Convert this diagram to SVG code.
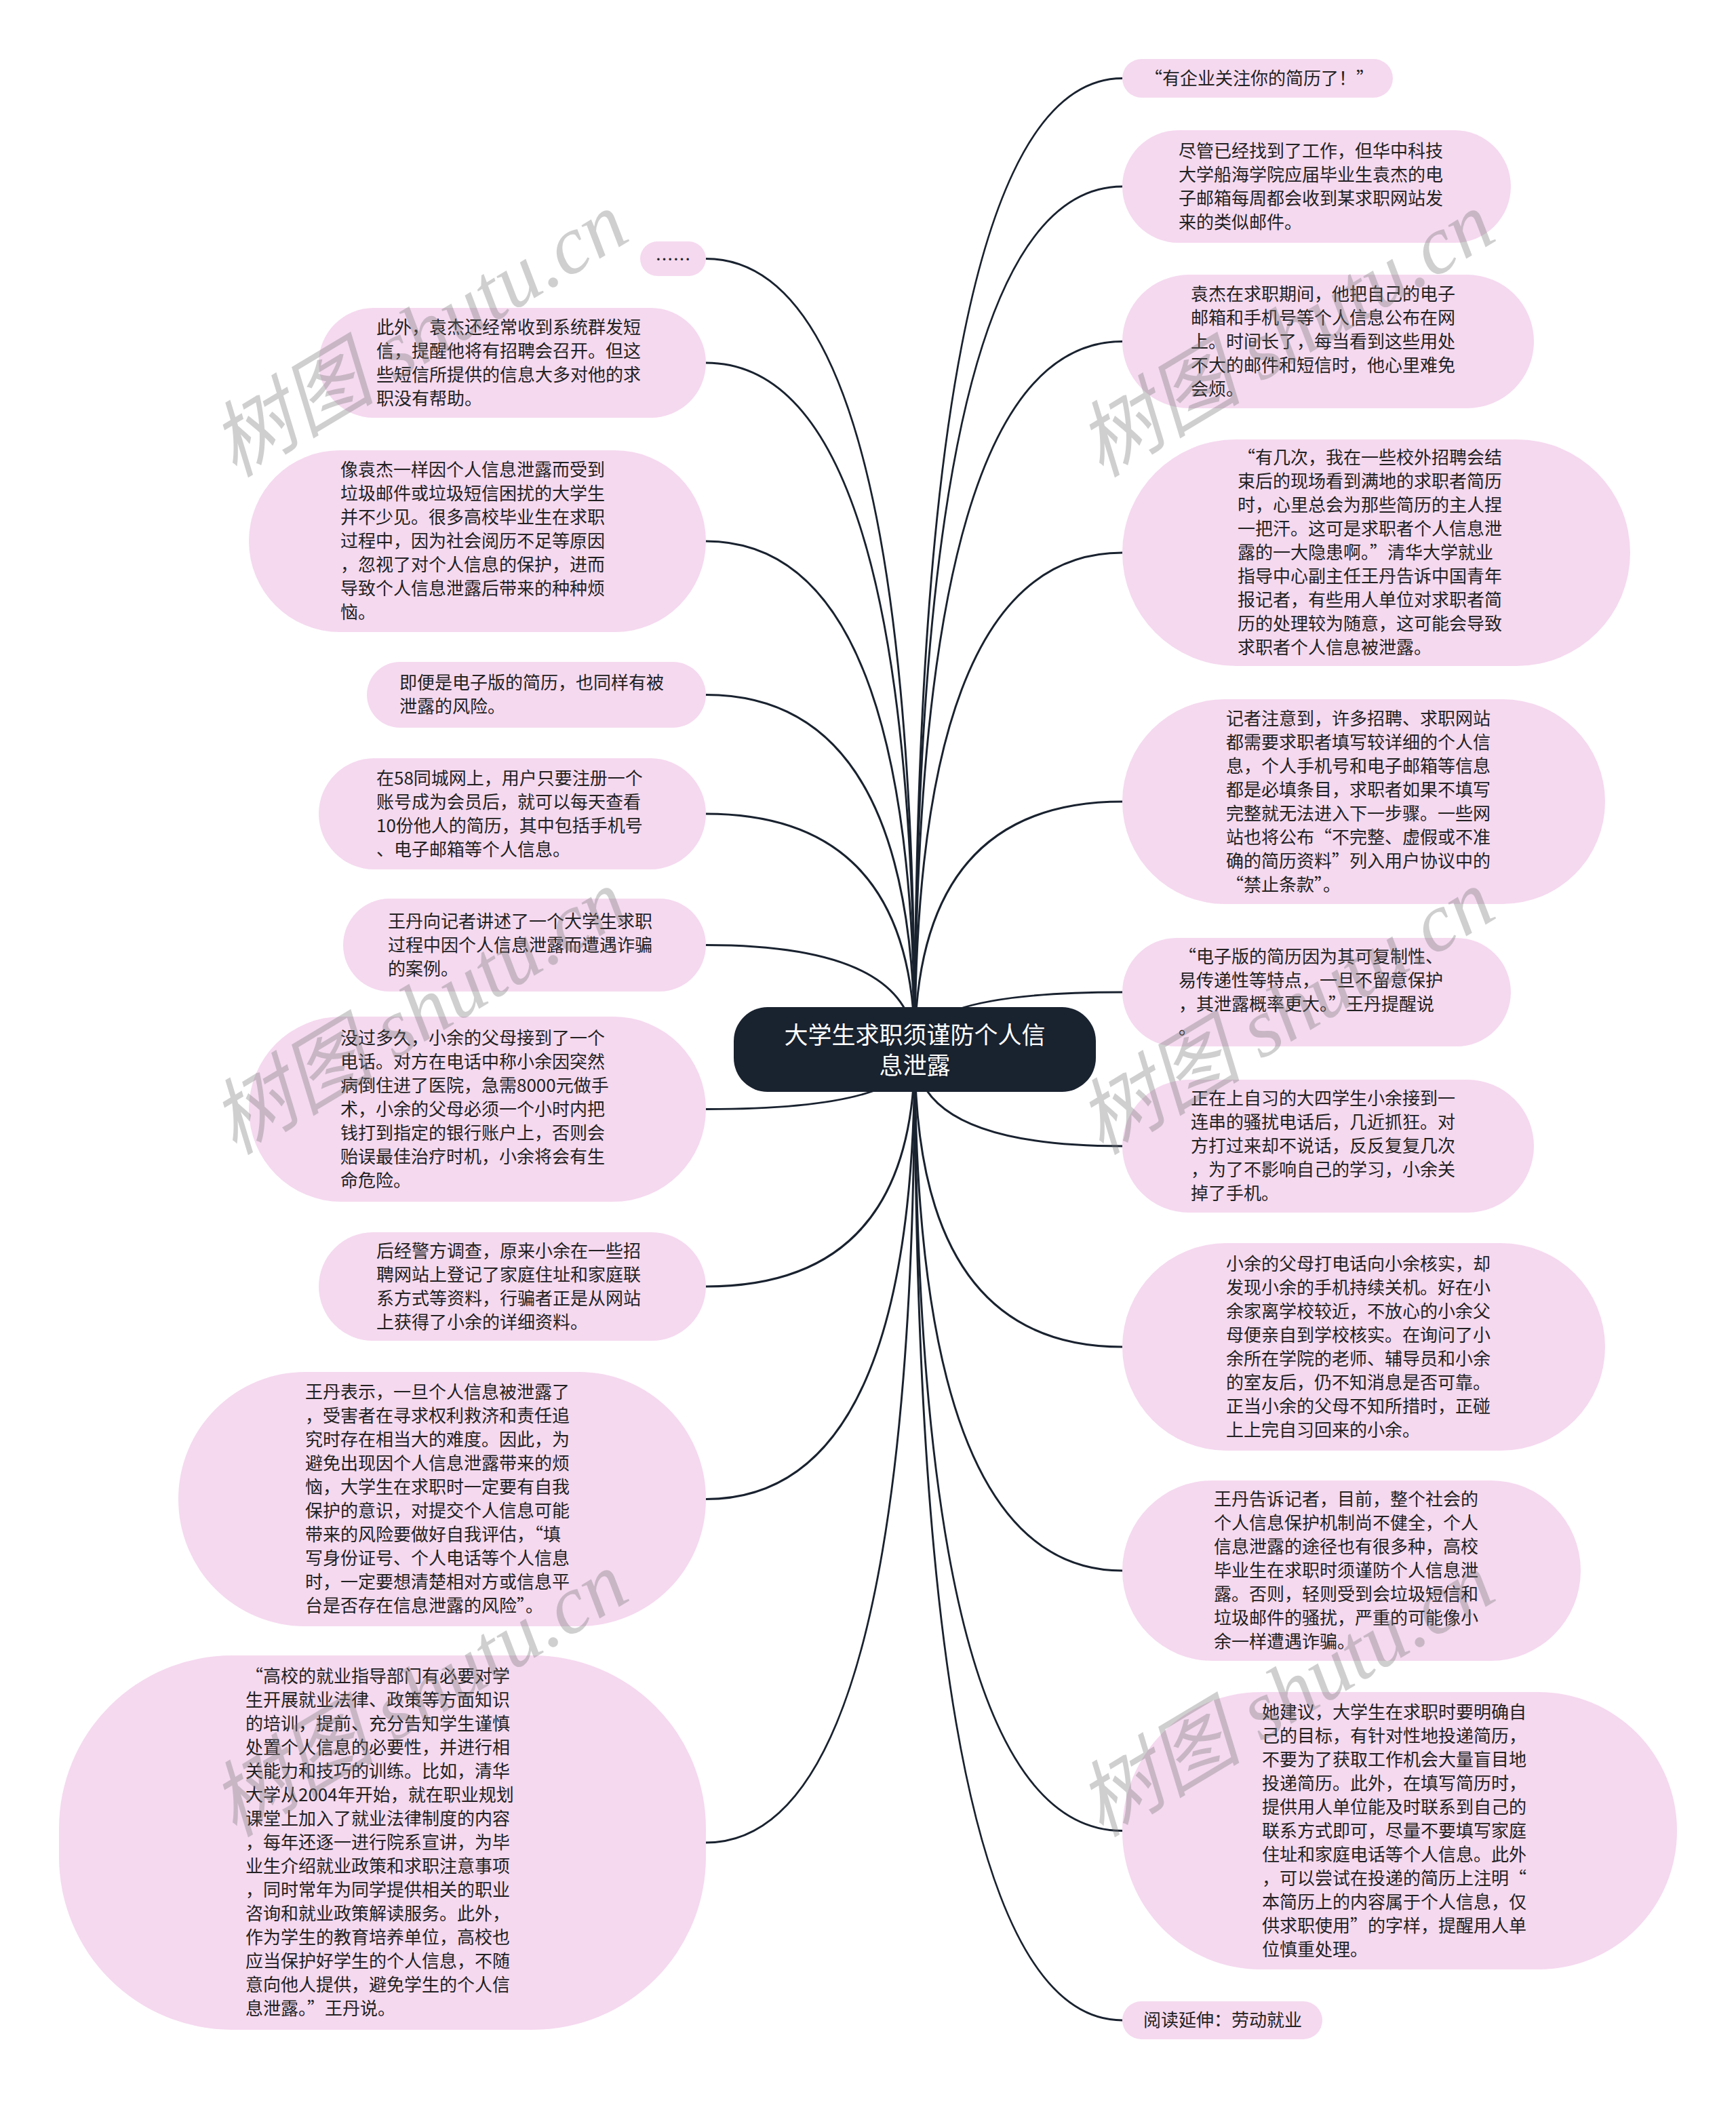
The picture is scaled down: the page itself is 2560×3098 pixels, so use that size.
<svg xmlns="http://www.w3.org/2000/svg" width="2560" height="3098" viewBox="0 0 2560 3098">
<style>
.c{fill:none;stroke:#19222f;stroke-width:3}
.n{fill:#f5d9ef}
.t{font-family:"Noto Sans CJK SC","Noto Sans",sans-serif;font-size:26px;fill:#222}
.q{font-feature-settings:"fwid" 1}
.root{fill:#19222f}
.rt{font-family:"Noto Sans CJK SC","Noto Sans",sans-serif;font-size:35px;fill:#fff;text-anchor:middle}
.wm{font-family:"Liberation Serif","Noto Sans CJK SC",serif;font-size:122px;font-style:italic;fill:#777;opacity:0.35}
</style>
<rect width="2560" height="3098" fill="#fff"/>
<g id="connectors">
<path class="c" d="M1349,1548 Q1349,115.5 1655,115.5"/>
<path class="c" d="M1349,1548 Q1349,275 1655,275"/>
<path class="c" d="M1349,1548 Q1349,503.5 1655,503.5"/>
<path class="c" d="M1349,1548 Q1349,815 1655,815"/>
<path class="c" d="M1349,1548 Q1349,1182 1655,1182"/>
<path class="c" d="M1349,1548 Q1349,1463 1655,1463"/>
<path class="c" d="M1349,1548 Q1349,1690 1655,1690"/>
<path class="c" d="M1349,1548 Q1349,1986 1655,1986"/>
<path class="c" d="M1349,1548 Q1349,2316 1655,2316"/>
<path class="c" d="M1349,1548 Q1349,2699.5 1655,2699.5"/>
<path class="c" d="M1349,1548 Q1349,2979 1655,2979"/>
<path class="c" d="M1349,1548 Q1349,381.5 1041,381.5"/>
<path class="c" d="M1349,1548 Q1349,535 1041,535"/>
<path class="c" d="M1349,1548 Q1349,798 1041,798"/>
<path class="c" d="M1349,1548 Q1349,1024.5 1041,1024.5"/>
<path class="c" d="M1349,1548 Q1349,1200 1041,1200"/>
<path class="c" d="M1349,1548 Q1349,1393.5 1041,1393.5"/>
<path class="c" d="M1349,1548 Q1349,1635.5 1041,1635.5"/>
<path class="c" d="M1349,1548 Q1349,1897 1041,1897"/>
<path class="c" d="M1349,1548 Q1349,2210.5 1041,2210.5"/>
<path class="c" d="M1349,1548 Q1349,2717 1041,2717"/>
</g>
<g id="root">
<rect class="root" x="1082" y="1485" width="534" height="125" rx="50"/>
<text class="rt" x="1349" y="1539">大学生求职须谨防个人信</text>
<text class="rt" x="1349" y="1584">息泄露</text>
</g>
<g id="r1">
<rect class="n" x="1655" y="87" width="399" height="57" rx="28.5"/>
<text class="t" x="1688" y="124.5"><tspan class="q">“</tspan>有企业关注你的简历了！<tspan class="q">”</tspan></text>
</g>
<g id="r2">
<rect class="n" x="1655" y="192" width="573" height="166" rx="83"/>
<text class="t"><tspan x="1738" y="231.5">尽管已经找到了工作，但华中科技</tspan><tspan x="1738" dy="35">大学船海学院应届毕业生袁杰的电</tspan><tspan x="1738" dy="35">子邮箱每周都会收到某求职网站发</tspan><tspan x="1738" dy="35">来的类似邮件。</tspan></text>
</g>
<g id="r3">
<rect class="n" x="1655" y="405" width="607" height="197" rx="98.5"/>
<text class="t"><tspan x="1756" y="442.5">袁杰在求职期间，他把自己的电子</tspan><tspan x="1756" dy="35">邮箱和手机号等个人信息公布在网</tspan><tspan x="1756" dy="35">上。时间长了，每当看到这些用处</tspan><tspan x="1756" dy="35">不大的邮件和短信时，他心里难免</tspan><tspan x="1756" dy="35">会烦。</tspan></text>
</g>
<g id="r4">
<rect class="n" x="1655" y="648" width="749" height="334" rx="167"/>
<text class="t"><tspan x="1825" y="684"><tspan class="q">“</tspan>有几次，我在一些校外招聘会结</tspan><tspan x="1825" dy="35">束后的现场看到满地的求职者简历</tspan><tspan x="1825" dy="35">时，心里总会为那些简历的主人捏</tspan><tspan x="1825" dy="35">一把汗。这可是求职者个人信息泄</tspan><tspan x="1825" dy="35">露的一大隐患啊。<tspan class="q">”</tspan>清华大学就业</tspan><tspan x="1825" dy="35">指导中心副主任王丹告诉中国青年</tspan><tspan x="1825" dy="35">报记者，有些用人单位对求职者简</tspan><tspan x="1825" dy="35">历的处理较为随意，这可能会导致</tspan><tspan x="1825" dy="35">求职者个人信息被泄露。</tspan></text>
</g>
<g id="r5">
<rect class="n" x="1655" y="1031" width="712" height="302" rx="151"/>
<text class="t"><tspan x="1808" y="1068.5">记者注意到，许多招聘、求职网站</tspan><tspan x="1808" dy="35">都需要求职者填写较详细的个人信</tspan><tspan x="1808" dy="35">息，个人手机号和电子邮箱等信息</tspan><tspan x="1808" dy="35">都是必填条目，求职者如果不填写</tspan><tspan x="1808" dy="35">完整就无法进入下一步骤。一些网</tspan><tspan x="1808" dy="35">站也将公布<tspan class="q">“</tspan>不完整、虚假或不准</tspan><tspan x="1808" dy="35">确的简历资料<tspan class="q">”</tspan>列入用户协议中的</tspan><tspan x="1808" dy="35"><tspan class="q">“</tspan>禁止条款<tspan class="q">”</tspan>。</tspan></text>
</g>
<g id="r6">
<rect class="n" x="1655" y="1383" width="573" height="160" rx="80"/>
<text class="t"><tspan x="1738" y="1419.5"><tspan class="q">“</tspan>电子版的简历因为其可复制性、</tspan><tspan x="1738" dy="35">易传递性等特点，一旦不留意保护</tspan><tspan x="1738" dy="35">，其泄露概率更大。<tspan class="q">”</tspan>王丹提醒说</tspan><tspan x="1738" dy="35">。</tspan></text>
</g>
<g id="r7">
<rect class="n" x="1655" y="1592" width="607" height="196" rx="98"/>
<text class="t"><tspan x="1756" y="1629">正在上自习的大四学生小余接到一</tspan><tspan x="1756" dy="35">连串的骚扰电话后，几近抓狂。对</tspan><tspan x="1756" dy="35">方打过来却不说话，反反复复几次</tspan><tspan x="1756" dy="35">，为了不影响自己的学习，小余关</tspan><tspan x="1756" dy="35">掉了手机。</tspan></text>
</g>
<g id="r8">
<rect class="n" x="1655" y="1833" width="712" height="306" rx="153"/>
<text class="t"><tspan x="1808" y="1872.5">小余的父母打电话向小余核实，却</tspan><tspan x="1808" dy="35">发现小余的手机持续关机。好在小</tspan><tspan x="1808" dy="35">余家离学校较近，不放心的小余父</tspan><tspan x="1808" dy="35">母便亲自到学校核实。在询问了小</tspan><tspan x="1808" dy="35">余所在学院的老师、辅导员和小余</tspan><tspan x="1808" dy="35">的室友后，仍不知消息是否可靠。</tspan><tspan x="1808" dy="35">正当小余的父母不知所措时，正碰</tspan><tspan x="1808" dy="35">上上完自习回来的小余。</tspan></text>
</g>
<g id="r9">
<rect class="n" x="1655" y="2183" width="676" height="266" rx="133"/>
<text class="t"><tspan x="1790" y="2220">王丹告诉记者，目前，整个社会的</tspan><tspan x="1790" dy="35">个人信息保护机制尚不健全，个人</tspan><tspan x="1790" dy="35">信息泄露的途径也有很多种，高校</tspan><tspan x="1790" dy="35">毕业生在求职时须谨防个人信息泄</tspan><tspan x="1790" dy="35">露。否则，轻则受到会垃圾短信和</tspan><tspan x="1790" dy="35">垃圾邮件的骚扰，严重的可能像小</tspan><tspan x="1790" dy="35">余一样遭遇诈骗。</tspan></text>
</g>
<g id="r10">
<rect class="n" x="1655" y="2495" width="818" height="409" rx="204"/>
<text class="t"><tspan x="1861" y="2533.5">她建议，大学生在求职时要明确自</tspan><tspan x="1861" dy="35">己的目标，有针对性地投递简历，</tspan><tspan x="1861" dy="35">不要为了获取工作机会大量盲目地</tspan><tspan x="1861" dy="35">投递简历。此外，在填写简历时，</tspan><tspan x="1861" dy="35">提供用人单位能及时联系到自己的</tspan><tspan x="1861" dy="35">联系方式即可，尽量不要填写家庭</tspan><tspan x="1861" dy="35">住址和家庭电话等个人信息。此外</tspan><tspan x="1861" dy="35">，可以尝试在投递的简历上注明<tspan class="q">“</tspan></tspan><tspan x="1861" dy="35">本简历上的内容属于个人信息，仅</tspan><tspan x="1861" dy="35">供求职使用<tspan class="q">”</tspan>的字样，提醒用人单</tspan><tspan x="1861" dy="35">位慎重处理。</tspan></text>
</g>
<g id="r11">
<rect class="n" x="1655" y="2951" width="295" height="56" rx="28"/>
<text class="t" x="1686" y="2988">阅读延伸：劳动就业</text>
</g>
<g id="l1">
<rect class="n" x="944" y="356" width="97" height="51" rx="25.5"/>
<text class="t" x="992.5" y="392" text-anchor="middle">……</text>
</g>
<g id="l2">
<rect class="n" x="470" y="454" width="571" height="162" rx="81"/>
<text class="t"><tspan x="555" y="491.5">此外，袁杰还经常收到系统群发短</tspan><tspan x="555" dy="35">信，提醒他将有招聘会召开。但这</tspan><tspan x="555" dy="35">些短信所提供的信息大多对他的求</tspan><tspan x="555" dy="35">职没有帮助。</tspan></text>
</g>
<g id="l3">
<rect class="n" x="367" y="664" width="674" height="268" rx="134"/>
<text class="t"><tspan x="502" y="702">像袁杰一样因个人信息泄露而受到</tspan><tspan x="502" dy="35">垃圾邮件或垃圾短信困扰的大学生</tspan><tspan x="502" dy="35">并不少见。很多高校毕业生在求职</tspan><tspan x="502" dy="35">过程中，因为社会阅历不足等原因</tspan><tspan x="502" dy="35">，忽视了对个人信息的保护，进而</tspan><tspan x="502" dy="35">导致个人信息泄露后带来的种种烦</tspan><tspan x="502" dy="35">恼。</tspan></text>
</g>
<g id="l4">
<rect class="n" x="541" y="976" width="500" height="97" rx="48.5"/>
<text class="t"><tspan x="589" y="1016">即便是电子版的简历，也同样有被</tspan><tspan x="589" dy="35">泄露的风险。</tspan></text>
</g>
<g id="l5">
<rect class="n" x="470" y="1118" width="571" height="164" rx="82"/>
<text class="t"><tspan x="555" y="1156.5">在58同城网上，用户只要注册一个</tspan><tspan x="555" dy="35">账号成为会员后，就可以每天查看</tspan><tspan x="555" dy="35">10份他人的简历，其中包括手机号</tspan><tspan x="555" dy="35">、电子邮箱等个人信息。</tspan></text>
</g>
<g id="l6">
<rect class="n" x="506" y="1325" width="535" height="137" rx="68.5"/>
<text class="t"><tspan x="572" y="1367.5">王丹向记者讲述了一个大学生求职</tspan><tspan x="572" dy="35">过程中因个人信息泄露而遭遇诈骗</tspan><tspan x="572" dy="35">的案例。</tspan></text>
</g>
<g id="l7">
<rect class="n" x="367" y="1499" width="674" height="273" rx="136.5"/>
<text class="t"><tspan x="502" y="1539.5">没过多久，小余的父母接到了一个</tspan><tspan x="502" dy="35">电话。对方在电话中称小余因突然</tspan><tspan x="502" dy="35">病倒住进了医院，急需8000元做手</tspan><tspan x="502" dy="35">术，小余的父母必须一个小时内把</tspan><tspan x="502" dy="35">钱打到指定的银行账户上，否则会</tspan><tspan x="502" dy="35">贻误最佳治疗时机，小余将会有生</tspan><tspan x="502" dy="35">命危险。</tspan></text>
</g>
<g id="l8">
<rect class="n" x="470" y="1817" width="571" height="160" rx="80"/>
<text class="t"><tspan x="555" y="1853.5">后经警方调查，原来小余在一些招</tspan><tspan x="555" dy="35">聘网站上登记了家庭住址和家庭联</tspan><tspan x="555" dy="35">系方式等资料，行骗者正是从网站</tspan><tspan x="555" dy="35">上获得了小余的详细资料。</tspan></text>
</g>
<g id="l9">
<rect class="n" x="263" y="2023" width="778" height="375" rx="187"/>
<text class="t"><tspan x="450" y="2062">王丹表示，一旦个人信息被泄露了</tspan><tspan x="450" dy="35">，受害者在寻求权利救济和责任追</tspan><tspan x="450" dy="35">究时存在相当大的难度。因此，为</tspan><tspan x="450" dy="35">避免出现因个人信息泄露带来的烦</tspan><tspan x="450" dy="35">恼，大学生在求职时一定要有自我</tspan><tspan x="450" dy="35">保护的意识，对提交个人信息可能</tspan><tspan x="450" dy="35">带来的风险要做好自我评估，<tspan class="q">“</tspan>填</tspan><tspan x="450" dy="35">写身份证号、个人电话等个人信息</tspan><tspan x="450" dy="35">时，一定要想清楚相对方或信息平</tspan><tspan x="450" dy="35">台是否存在信息泄露的风险<tspan class="q">”</tspan>。</tspan></text>
</g>
<g id="l10">
<rect class="n" x="87" y="2441" width="954" height="552" rx="255"/>
<text class="t"><tspan x="362" y="2481"><tspan class="q">“</tspan>高校的就业指导部门有必要对学</tspan><tspan x="362" dy="35">生开展就业法律、政策等方面知识</tspan><tspan x="362" dy="35">的培训，提前、充分告知学生谨慎</tspan><tspan x="362" dy="35">处置个人信息的必要性，并进行相</tspan><tspan x="362" dy="35">关能力和技巧的训练。比如，清华</tspan><tspan x="362" dy="35">大学从2004年开始，就在职业规划</tspan><tspan x="362" dy="35">课堂上加入了就业法律制度的内容</tspan><tspan x="362" dy="35">，每年还逐一进行院系宣讲，为毕</tspan><tspan x="362" dy="35">业生介绍就业政策和求职注意事项</tspan><tspan x="362" dy="35">，同时常年为同学提供相关的职业</tspan><tspan x="362" dy="35">咨询和就业政策解读服务。此外，</tspan><tspan x="362" dy="35">作为学生的教育培养单位，高校也</tspan><tspan x="362" dy="35">应当保护好学生的个人信息，不随</tspan><tspan x="362" dy="35">意向他人提供，避免学生的个人信</tspan><tspan x="362" dy="35">息泄露。<tspan class="q">”</tspan>王丹说。</tspan></text>
</g>
<g id="watermarks">
<text class="wm" x="346" y="705" transform="rotate(-31 346 705)">树图 shutu.cn</text>
<text class="wm" x="1624" y="705" transform="rotate(-31 1624 705)">树图 shutu.cn</text>
<text class="wm" x="346" y="1704" transform="rotate(-31 346 1704)">树图 shutu.cn</text>
<text class="wm" x="1624" y="1704" transform="rotate(-31 1624 1704)">树图 shutu.cn</text>
<text class="wm" x="346" y="2710" transform="rotate(-31 346 2710)">树图 shutu.cn</text>
<text class="wm" x="1624" y="2710" transform="rotate(-31 1624 2710)">树图 shutu.cn</text>
</g>
</svg>
